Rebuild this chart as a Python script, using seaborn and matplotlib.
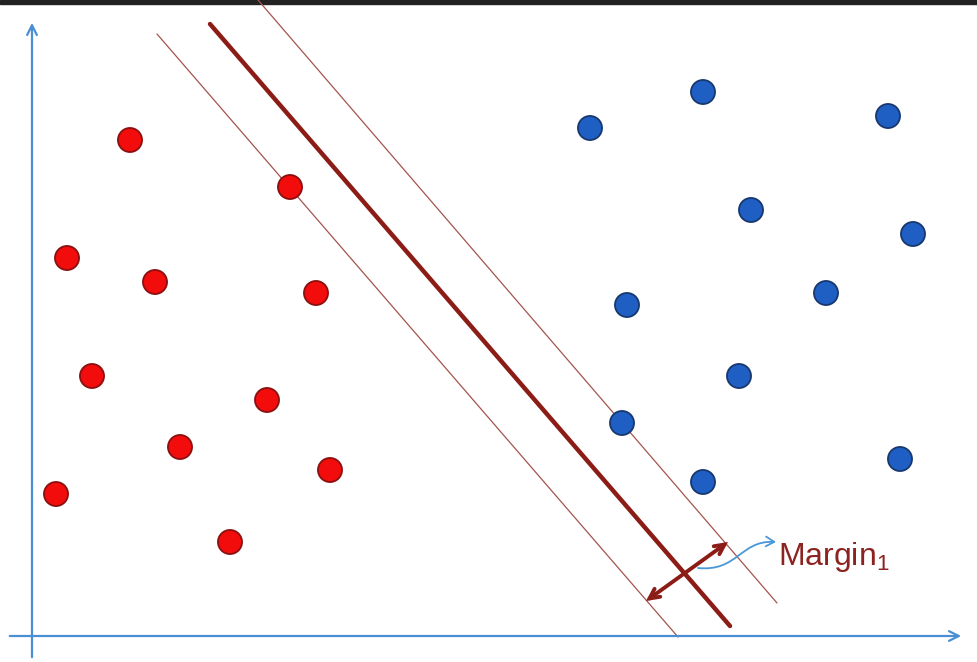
import numpy as np
import pandas as pd
import matplotlib
matplotlib.use("Agg")
import matplotlib.pyplot as plt
import seaborn as sns
from matplotlib.patches import FancyArrowPatch
from matplotlib.path import Path

# point positions (x to the right, y downward)
red_x = [130, 290, 67, 155, 316, 92, 267, 180, 330, 56, 230]
red_y = [140, 187, 258, 282, 293, 376, 400, 447, 470, 494, 542]
blue_x = [703, 590, 888, 751, 913, 627, 826, 739, 622, 900, 703]
blue_y = [92, 128, 116, 210, 234, 305, 293, 376, 423, 459, 482]

# separating hyperplane and the two margin lines (start, end)
center_line_x = [210, 730]
center_line_y = [24, 626]
upper_line_x = [258, 777]
upper_line_y = [0, 603]
lower_line_x = [157, 678]
lower_line_y = [34, 637]

# margin double arrow
margin_x = [646, 728]
margin_y = [601, 542]

# blue pointer curve (bezier through the label pointer)
pointer_x = [698, 738, 740, 776]
pointer_y = [568, 572, 540, 542]

sns.set_style("white")
plt.rcParams["font.family"] = ["Liberation Sans", "DejaVu Sans"]
plt.rcParams["mathtext.fontset"] = "custom"
plt.rcParams["mathtext.rm"] = "Liberation Sans"

df = pd.DataFrame({
    "x": red_x + blue_x,
    "y": red_y + blue_y,
    "cls": ["red"] * len(red_x) + ["blue"] * len(blue_x),
})

fig = plt.figure(figsize=(9.77, 6.62), dpi=100)
ax = fig.add_axes([0, 0, 1, 1])
ax.set_xlim(0, 977)
ax.set_ylim(662, 0)
ax.axis("off")

axis_col = "#4a8fd4"
line_col = "#8b1c16"
thin_col = "#a4544e"

# top dark strip of the screenshot
ax.axhspan(0, 3.5, color="#222222", zorder=0)

# coordinate axes with arrowheads
ax.annotate("", xy=(32, 20), xytext=(32, 660),
            arrowprops=dict(arrowstyle="->,head_length=0.7,head_width=0.35",
                            color=axis_col, lw=1.6))
ax.annotate("", xy=(964, 636), xytext=(7, 636),
            arrowprops=dict(arrowstyle="->,head_length=0.7,head_width=0.35",
                            color=axis_col, lw=1.6))

# lines
ax.plot(upper_line_x, upper_line_y, color=thin_col, lw=0.9, zorder=2)
ax.plot(lower_line_x, lower_line_y, color=thin_col, lw=0.9, zorder=2)
ax.plot(center_line_x, center_line_y, color=line_col, lw=3.2, zorder=2,
        solid_capstyle="round")

sns.scatterplot(data=df, x="x", y="y", hue="cls",
                palette={"red": "#f20c0c", "blue": "#1f5fc4"},
                s=300, linewidth=1.3, ax=ax, legend=False, zorder=3,
                edgecolor=None)
# darker edges per class
colls = ax.collections[-1]
edge = ["#8a1010" if c == "red" else "#17386e" for c in df["cls"]]
colls.set_edgecolor(edge)

# margin double arrow
ax.annotate("", xy=(margin_x[1], margin_y[1]), xytext=(margin_x[0], margin_y[0]),
            arrowprops=dict(arrowstyle="<->,head_length=0.7,head_width=0.35",
                            color=line_col, lw=2.8, shrinkA=0, shrinkB=0,
                            capstyle="round", joinstyle="miter"),
            zorder=4)

# blue pointer to label
verts = list(zip(pointer_x, pointer_y))
curve = Path(verts, [Path.MOVETO, Path.CURVE4, Path.CURVE4, Path.CURVE4])
arr = FancyArrowPatch(path=curve,
                      arrowstyle="->,head_length=6,head_width=3.5",
                      color="#4a97d8", lw=1.3, zorder=4)
ax.add_patch(arr)

ax.text(778, 557, r"Margin$_\mathrm{1}$", color="#8b2420", fontsize=23,
        va="center", ha="left")

fig.savefig("out.png", dpi=100)
